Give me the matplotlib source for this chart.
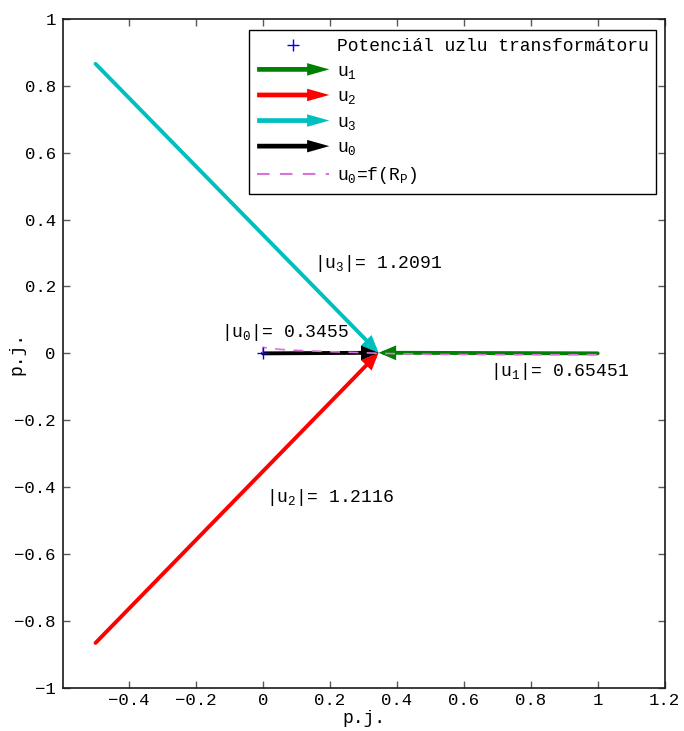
import matplotlib
matplotlib.use("Agg")
import matplotlib.pyplot as plt
import matplotlib.patches as mpatches
from matplotlib.lines import Line2D
from matplotlib.legend_handler import HandlerPatch
from matplotlib.ticker import FuncFormatter, FixedLocator

plt.rcParams['font.family'] = ['Liberation Mono', 'DejaVu Sans Mono']
plt.rcParams['font.size'] = 13
plt.rcParams['mathtext.fontset'] = 'custom'
plt.rcParams['mathtext.rm'] = 'Liberation Mono'
plt.rcParams['mathtext.it'] = 'Liberation Mono'

# Phase voltage tips (p.u.) of the supply, transformer neutral point
phase_names = ['1', '2', '3']
phase_x = [1.0, -0.5, -0.5]
phase_y = [0.0, -0.866, 0.866]
phase_colors = ['#008000', '#ff0000', '#00bfbf']
neutral_x = 0.34549
neutral_y = 0.0018

# Magnitudes printed next to the phasors
mag_u0 = 0.3455
mag_u = [0.65451, 1.2116, 1.2091]

# Locus of the neutral voltage as the grounding resistance varies
locus_x = [0.0, 0.0, 0.05, 0.1, 0.2, 0.3, 0.35, 0.5, 0.7, 0.9, 1.0]
locus_y = [0.0, 0.018, 0.012, 0.009, 0.005, 0.002, 0.0, -0.003, -0.004, -0.004, -0.004]

# Label positions (data coords)
lab_u0_pos = (-0.125, 0.062)
lab_u_pos = [(0.677, -0.055), (0.01, -0.43), (0.153, 0.268)]

fig = plt.figure(figsize=(6.84, 7.31), dpi=100)
ax = fig.add_axes([0.0917, 0.0592, 0.880, 0.9148])
ax.set_xlim(-0.598, 1.2)
ax.set_ylim(-1, 1)

arrow_style = '-|>,head_length=0.9,head_width=0.38'


def phasor(x0, y0, x1, y1, color):
    p = mpatches.FancyArrowPatch((x0, y0), (x1, y1), arrowstyle=arrow_style,
                                 mutation_scale=8.5, color=color, lw=2.8,
                                 shrinkA=0, shrinkB=0, joinstyle='miter',
                                 zorder=3)
    ax.add_patch(p)


for px, py, c in zip(phase_x, phase_y, phase_colors):
    phasor(px, py, neutral_x, neutral_y, c)
phasor(0.0, 0.0, neutral_x, neutral_y, 'black')

ax.plot(locus_x, locus_y, color='#d873d8', lw=1.2, dashes=(6, 5), zorder=5)

ax.plot([0], [0], marker='+', color='blue', ms=9, mew=1, ls='none', zorder=6)

ax.text(*lab_u0_pos, r'|$\mathregular{u_0}$|= %g' % mag_u0, va='center', ha='left')
for name, mag, pos in zip(phase_names, mag_u, lab_u_pos):
    ax.text(*pos, r'|$\mathregular{u_%s}$|= %g' % (name, mag), va='center', ha='left')

# Axes styling
fmt = FuncFormatter(lambda v, _: ('%g' % v).replace('-', '\u2212'))
ax.xaxis.set_major_locator(FixedLocator([-0.4, -0.2, 0, 0.2, 0.4, 0.6, 0.8, 1.0, 1.2]))
ax.yaxis.set_major_locator(FixedLocator([-1, -0.8, -0.6, -0.4, -0.2, 0, 0.2, 0.4, 0.6, 0.8, 1.0]))
ax.xaxis.set_major_formatter(fmt)
ax.yaxis.set_major_formatter(fmt)
ax.tick_params(direction='in', length=5, width=1, color='0.35',
               top=True, right=True, labelsize=12.5, pad=5)
ax.tick_params(axis='x', pad=4)
for s in ax.spines.values():
    s.set_linewidth(1.2)
    s.set_color('0.1')
ax.set_xlabel('p.j.')
ax.set_ylabel('p.j.')
ax.xaxis.set_label_coords(0.5, -0.034)
ax.yaxis.set_label_coords(-0.062, 0.5)


# Legend with arrow handles
def make_arrow(legend, orig_handle, xdescent, ydescent, width, height, fontsize):
    return mpatches.FancyArrow(-xdescent, 0.5 * height - ydescent, width, 0,
                               width=3.4, head_width=9, head_length=16,
                               length_includes_head=True)


proxy_marker = Line2D([], [], marker='+', color='blue', ms=9, mew=1, ls='none')
proxies = [mpatches.FancyArrow(0, 0, 1, 0, color=c, lw=0) for c in phase_colors]
proxy_u0 = mpatches.FancyArrow(0, 0, 1, 0, color='black', lw=0)
proxy_locus = Line2D([], [], color='#d873d8', lw=1.5, dashes=(6, 5))

handles = [proxy_marker] + proxies + [proxy_u0, proxy_locus]
labels = ['Potenciál uzlu transformátoru',
          r'$\mathregular{u_1}$', r'$\mathregular{u_2}$', r'$\mathregular{u_3}$',
          r'$\mathregular{u_0}$',
          r'$\mathregular{u_0}$=f($\mathregular{R_P}$)']
hmap = {h: HandlerPatch(patch_func=make_arrow) for h in proxies + [proxy_u0]}
leg = ax.legend(handles, labels, handler_map=hmap, loc='upper left',
                bbox_to_anchor=(249 / 684, 1 - 30 / 731),
                bbox_transform=fig.transFigure, borderaxespad=0,
                fancybox=False, framealpha=1, edgecolor='black',
                handlelength=4.0, handletextpad=0.4, labelspacing=0.42,
                borderpad=0.45, fontsize=13)
leg.get_frame().set_linewidth(1.0)
leg.set_zorder(10)

fig.savefig('out.png', dpi=100)
